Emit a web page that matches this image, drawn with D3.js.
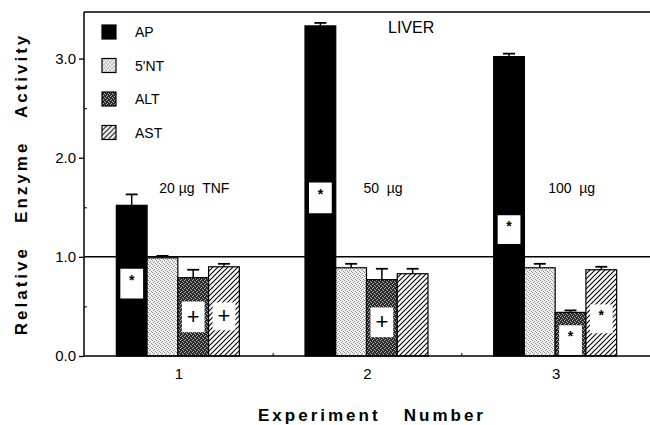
<!DOCTYPE html>
<html>
<head>
<meta charset="utf-8">
<script src="https://cdn.jsdelivr.net/npm/d3@7"></script>
<style>
  html, body { margin: 0; padding: 0; background: #fff; }
  svg { display: block; }
  text { font-family: "Liberation Sans", Arial, Helvetica, sans-serif; fill: #000; }
</style>
</head>
<body>
<svg id="chart" width="650" height="425"></svg>
<script>
// ---------------- data ----------------
const experiments = [1, 2, 3];
const seriesNames = ["AP", "5'NT", "ALT", "AST"];
const apValues   = [1.52, 3.33, 3.02];
const apErrors   = [0.11, 0.03, 0.03];
const ntValues   = [0.99, 0.89, 0.89];
const ntErrors   = [0.02, 0.04, 0.04];
const altValues  = [0.79, 0.77, 0.44];
const altErrors  = [0.08, 0.11, 0.02];
const astValues  = [0.90, 0.83, 0.87];
const astErrors  = [0.03, 0.05, 0.03];
const yTickValues = [0, 1, 2, 3];
const yMinorTicks = [0.5, 1.5, 2.5];
const doseLabels = ["20 \u00b5g  TNF", "50  \u00b5g", "100  \u00b5g"];
const doseExp = [1, 2, 3];
// significance boxes: experiment, series, box top / bottom values, symbol
const sigExp    = [1, 1, 1, 2, 2, 3, 3, 3];
const sigSeries = ["AP", "ALT", "AST", "AP", "ALT", "AP", "ALT", "AST"];
const sigTop    = [0.88, 0.55, 0.54, 1.75, 0.49, 1.42, 0.31, 0.52];
const sigBottom = [0.58, 0.24, 0.26, 1.44, 0.19, 1.13, 0.01, 0.23];
const sigSymbol = ["*", "+", "+", "*", "+", "*", "*", "*"];

const valuesBySeries = { "AP": apValues, "5'NT": ntValues, "ALT": altValues, "AST": astValues };
const errorsBySeries = { "AP": apErrors, "5'NT": ntErrors, "ALT": altErrors, "AST": astErrors };

const bars = [];
experiments.forEach((e, i) => {
  seriesNames.forEach(s => {
    bars.push({ exp: e, series: s, value: valuesBySeries[s][i], err: errorsBySeries[s][i] });
  });
});
const sigs = sigExp.map((e, i) => ({ exp: e, series: sigSeries[i], top: sigTop[i], bottom: sigBottom[i], sym: sigSymbol[i] }));

// ---------------- layout ----------------
const svg = d3.select("#chart");
const pLeft = 84, pRight = 650, pTop = 12, pBottom = 356;

const x = d3.scaleLinear().domain([0.5, 3.5]).range([pLeft, pRight]);
const xs = d3.scaleBand().domain(seriesNames).range([-62, 61]).paddingInner(0).paddingOuter(0);
const y = d3.scaleLinear().domain([0, 3.47]).range([pBottom, pTop]);

// ---------------- patterns ----------------
const defs = svg.append("defs");
const pl = defs.append("pattern").attr("id", "lightDots").attr("patternUnits", "userSpaceOnUse")
  .attr("width", 4).attr("height", 4);
pl.append("rect").attr("width", 4).attr("height", 4).attr("fill", "#f0f0f0");
[[0,0],[2,1],[1,2],[3,3]].forEach(p => pl.append("rect").attr("x", p[0]).attr("y", p[1]).attr("width", 1).attr("height", 1).attr("fill", "#909090"));
const pd = defs.append("pattern").attr("id", "darkDots").attr("patternUnits", "userSpaceOnUse")
  .attr("width", 4).attr("height", 4);
pd.append("rect").attr("width", 4).attr("height", 4).attr("fill", "#2a2a2a");
[[0,0],[2,1],[1,3],[3,2]].forEach(p => pd.append("rect").attr("x", p[0]).attr("y", p[1]).attr("width", 1).attr("height", 1).attr("fill", "#b0b0b0"));
const ph = defs.append("pattern").attr("id", "hatch").attr("patternUnits", "userSpaceOnUse")
  .attr("width", 5).attr("height", 5);
ph.append("rect").attr("width", 5).attr("height", 5).attr("fill", "#fff");
ph.append("path").attr("d", "M-1,1 L1,-1 M0,5 L5,0 M4,6 L6,4").attr("stroke", "#000").attr("stroke-width", 1.1);

const fills = { "AP": "#000", "5'NT": "url(#lightDots)", "ALT": "url(#darkDots)", "AST": "url(#hatch)" };

// ---------------- reference line & frame ----------------
svg.append("line").attr("x1", pLeft).attr("x2", pRight).attr("y1", y(1)).attr("y2", y(1))
  .attr("stroke", "#000").attr("stroke-width", 1.5);
svg.append("line").attr("x1", pLeft).attr("x2", pRight).attr("y1", pTop).attr("y2", pTop)
  .attr("stroke", "#000").attr("stroke-width", 1.5);

// ---------------- bars ----------------
const g = svg.append("g");
g.selectAll("rect.bar").data(bars).enter().append("rect")
  .attr("class", "bar")
  .attr("x", d => x(d.exp) + xs(d.series))
  .attr("width", xs.bandwidth())
  .attr("y", d => y(d.value))
  .attr("height", d => y(0) - y(d.value))
  .attr("fill", d => fills[d.series])
  .attr("stroke", "#000").attr("stroke-width", 1.2);

const eb = g.selectAll("g.err").data(bars).enter().append("g").attr("class", "err");
eb.append("line")
  .attr("x1", d => x(d.exp) + xs(d.series) + xs.bandwidth() / 2)
  .attr("x2", d => x(d.exp) + xs(d.series) + xs.bandwidth() / 2)
  .attr("y1", d => y(d.value)).attr("y2", d => y(d.value + d.err))
  .attr("stroke", "#000").attr("stroke-width", 1.5);
eb.append("line")
  .attr("x1", d => x(d.exp) + xs(d.series) + xs.bandwidth() / 2 - 6)
  .attr("x2", d => x(d.exp) + xs(d.series) + xs.bandwidth() / 2 + 6)
  .attr("y1", d => y(d.value + d.err)).attr("y2", d => y(d.value + d.err))
  .attr("stroke", "#000").attr("stroke-width", 1.8);

const sg = g.selectAll("g.sig").data(sigs).enter().append("g").attr("class", "sig");
sg.append("rect")
  .attr("x", d => x(d.exp) + xs(d.series) + 4)
  .attr("width", xs.bandwidth() - 8)
  .attr("y", d => y(d.top))
  .attr("height", d => y(d.bottom) - y(d.top))
  .attr("fill", "#fff");
sg.append("text")
  .attr("x", d => x(d.exp) + xs(d.series) + xs.bandwidth() / 2)
  .attr("y", d => d.sym === "*" ? y(d.top) + 16 : (y(d.top) + y(d.bottom)) / 2 + 7)
  .attr("text-anchor", "middle")
  .style("font-size", d => d.sym === "*" ? "14px" : "22px")
  .style("font-weight", d => d.sym === "*" ? "bold" : "normal")
  .text(d => d.sym);

// ---------------- axes ----------------
const yAxis = d3.axisLeft(y).tickValues(yTickValues).tickFormat(d3.format(".1f")).tickSize(5).tickPadding(3);
const ya = svg.append("g").attr("transform", `translate(${pLeft},0)`).call(yAxis);
ya.select(".domain").remove();
ya.selectAll("line").attr("stroke-width", 1.3);
ya.selectAll("text").style("font-size", "15px").style("font-family", "Liberation Sans, Arial, sans-serif");
const yMinor = d3.axisLeft(y).tickValues(yMinorTicks).tickFormat("").tickSize(-3);
const ym = svg.append("g").attr("transform", `translate(${pLeft},0)`).call(yMinor);
ym.select(".domain").remove();
svg.append("line").attr("x1", pLeft).attr("x2", pLeft).attr("y1", pTop).attr("y2", pBottom)
  .attr("stroke", "#000").attr("stroke-width", 1.5);

const xAxis = d3.axisBottom(x).tickValues(experiments).tickFormat(d3.format("d")).tickSize(0).tickPadding(12);
const xa = svg.append("g").attr("transform", `translate(0,${pBottom})`).call(xAxis);
xa.select(".domain").remove();
xa.selectAll("text").style("font-size", "15px").style("font-family", "Liberation Sans, Arial, sans-serif");
const xMinor = d3.axisBottom(x).tickValues([1.5, 2.5]).tickFormat("").tickSize(-3);
const xm = svg.append("g").attr("transform", `translate(0,${pBottom})`).call(xMinor);
xm.select(".domain").remove();
svg.append("line").attr("x1", pLeft).attr("x2", pRight).attr("y1", pBottom).attr("y2", pBottom)
  .attr("stroke", "#000").attr("stroke-width", 1.5);

// ---------------- titles ----------------
svg.append("text").attr("x", 372).attr("y", 421).attr("text-anchor", "middle")
  .style("font-size", "17px").style("font-weight", "bold").style("letter-spacing", "3px")
  .attr("xml:space", "preserve")
  .text("Experiment   Number");

svg.append("text").attr("transform", "translate(27,184) rotate(-90)")
  .attr("text-anchor", "middle")
  .style("font-size", "17px").style("font-weight", "bold").style("letter-spacing", "3px")
  .attr("xml:space", "preserve")
  .text("Relative   Enzyme   Activity");

svg.append("text").attr("x", 388).attr("y", 33)
  .style("font-size", "16px").text("LIVER");

svg.selectAll("text.dose").data(doseExp).enter().append("text").attr("class", "dose")
  .attr("x", d => x(d) + 16)
  .attr("y", 193)
  .attr("text-anchor", "middle")
  .attr("xml:space", "preserve")
  .style("font-size", "14px")
  .text((d, i) => doseLabels[i]);

// ---------------- legend ----------------
const lg = svg.append("g").selectAll("g").data(seriesNames).enter().append("g")
  .attr("transform", (d, i) => `translate(102,${25 + i * 33.5})`);
lg.append("rect").attr("width", 14).attr("height", 14)
  .attr("fill", d => fills[d]).attr("stroke", "#000").attr("stroke-width", 1.2);
lg.append("text").attr("x", 33).attr("y", 12).style("font-size", "14px").text(d => d);
</script>
</body>
</html>
